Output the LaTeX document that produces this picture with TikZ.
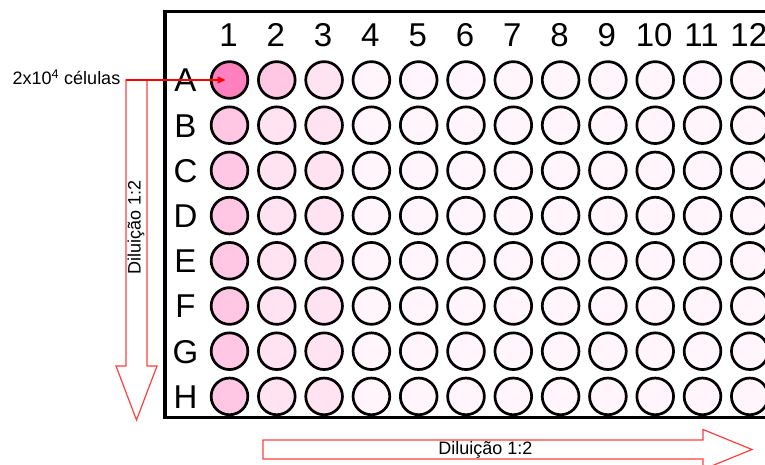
\documentclass[tikz,border=0pt]{standalone}
\usepackage{fontspec}
\setmainfont{Liberation Sans}
\usetikzlibrary{arrows.meta,positioning,calc}
\definecolor{wellpink}{RGB}{255,0,128}

\begin{document}
\begin{tikzpicture}[
    x=1pt, y=1pt,
    well/.style={circle, draw, line width=2.7pt, minimum size=36.7pt, inner sep=0pt},
    lbl/.style={font=\fontsize{33}{33}\selectfont, inner sep=0pt, anchor=base},
    dil/.style={draw=red!75, line width=1.2pt},
    dtext/.style={font=\fontsize{18}{18}\selectfont, inner sep=0pt},
    pointer/.style={-{Triangle[length=8pt,width=7pt]}, red, line width=1.3pt}
]
    \useasboundingbox (0,0) rectangle (765,465);
    \clip (0,0) rectangle (765,465);

    % plate
    \draw[line width=3.5pt] (165,47.5) rectangle (800,453.3);

    % wells A1..H12
    \foreach \rw [count=\ri] in {A,...,H} {
      \foreach \c in {1,...,12} {
        \pgfmathtruncatemacro\shade{\c==1 ? (\ri==1 ? 50 : 22) : (\c==2 ? (\ri==1 ? 22 : 11) : (\c==3 ? 11 : 4))}
        \node[well, fill=wellpink!\shade] (\rw\c) at ({229.5+47.3*(\c-1)}, {385-45.2*(\ri-1)}) {};
      }
      \node[lbl] (row\rw) at ([xshift=-44pt, yshift=-12pt]\rw1.center) {\rw};
    }
    \foreach \c in {1,...,12}
      \node[lbl] (col\c) at ([xshift=-1pt, yshift=33.3pt]A\c.center) {\c};

    % dilution arrows
    \coordinate (vtop) at (136.5,385);
    \coordinate (vtip) at (136.5,45);
    \draw[dil] ([xshift=-10.5pt]vtop) -- ($(vtip)+(-10.5,54)$) -- ($(vtip)+(-20.5,54)$) -- (vtip)
        -- ($(vtip)+(20.5,54)$) -- ($(vtip)+(10.5,54)$) -- ([xshift=10.5pt]vtop) -- cycle;
    \node[dtext, rotate=90] (dilv) at (136,238) {Diluição 1:2};

    \coordinate (htail) at (263,15.5);
    \coordinate (htip) at (752,15.5);
    \draw[dil] ([yshift=9.5pt]htail) -- ($(htip)+(-49,9.5)$) -- ($(htip)+(-49,20)$) -- (htip)
        -- ($(htip)+(-49,-20)$) -- ($(htip)+(-49,-9.5)$) -- ([yshift=-9.5pt]htail) -- cycle;
    \node[dtext] (dilh) at (485.5,15) {Diluição 1:2};

    % cell seeding
    \node[dtext, anchor=base west] (cells) at (12.5,380.7) {2x10\textsuperscript{4} células};
    \draw[pointer] ([xshift=-10.5pt]vtop) -- ([xshift=-4pt]A1.center);
\end{tikzpicture}
\end{document}
